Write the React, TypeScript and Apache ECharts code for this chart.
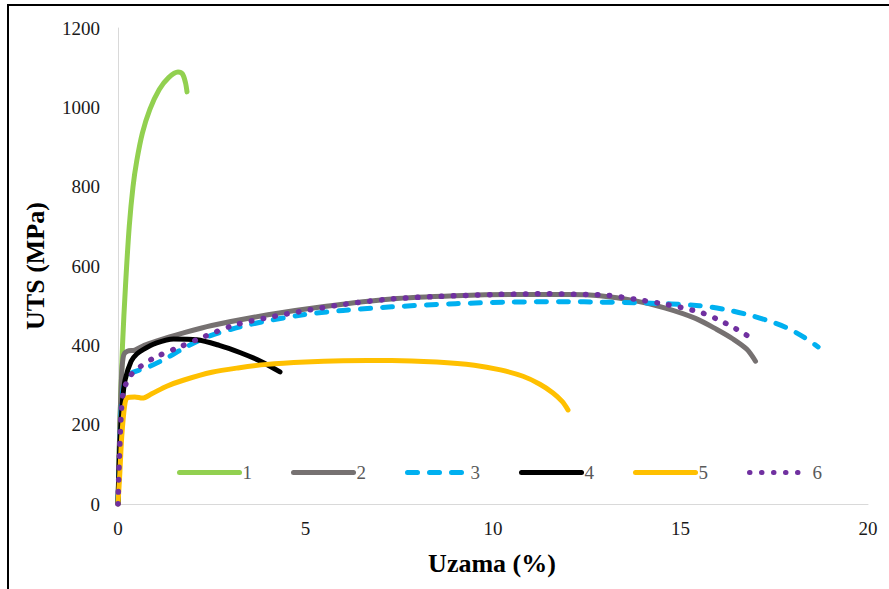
import React, { useEffect, useRef } from "react";
import * as echarts from "echarts";

const seriesNames = ["1", "2", "3", "4", "5", "6"];
const seriesColors = ["#92D050", "#767171", "#00B0F0", "#000000", "#FFC000", "#7030A0"];

const curve1: [number, number][] = [
  [0, 0], [0.05, 200], [0.12, 400], [0.2, 550], [0.3, 700], [0.4, 800], [0.5, 865],
  [0.65, 935], [0.85, 995], [1.1, 1045], [1.35, 1075], [1.6, 1089], [1.72, 1084],
  [1.8, 1062], [1.84, 1039],
];
const curve2: [number, number][] = [
  [0, 0], [0.05, 200], [0.1, 330], [0.15, 375], [0.25, 385], [0.45, 388], [0.7, 400],
  [1.0, 410], [1.7, 430], [2.5, 450], [4, 477], [5.5, 498], [7.3, 517], [9, 525],
  [10.5, 528], [12, 528], [12.85, 525], [13.8, 512], [14.6, 494], [15.4, 468],
  [15.97, 440], [16.4, 416], [16.77, 390], [17, 360],
];
const curve3: [number, number][] = [
  [0, 0], [0.05, 150], [0.12, 280], [0.25, 320], [0.4, 332], [0.8, 345], [1.3, 368],
  [1.8, 395], [2.45, 424], [3.5, 452], [4.85, 476], [6, 488], [7.3, 497], [9, 505],
  [10.5, 509], [12, 510], [12.85, 509], [14, 507], [15.5, 500], [16.2, 490],
  [16.85, 476], [17.4, 460], [17.84, 444], [18.3, 420], [18.67, 396],
];
const curve4: [number, number][] = [
  [0, 0], [0.05, 150], [0.12, 260], [0.19, 313], [0.35, 360], [0.5, 378], [0.68, 390],
  [1.0, 405], [1.48, 416], [2.1, 414], [2.7, 400], [3.25, 382], [3.8, 360], [4.32, 333],
];
const curve5: [number, number][] = [
  [0, 0], [0.05, 80], [0.1, 170], [0.18, 250], [0.25, 268], [0.45, 270], [0.65, 267],
  [0.9, 278], [1.3, 297], [1.74, 312], [2.5, 332], [3.2, 343], [3.97, 352], [5, 358],
  [6, 361], [7.3, 362], [8.5, 358], [9.5, 350], [10.2, 338], [10.8, 322], [11.25, 302],
  [11.6, 280], [11.85, 258], [12, 237],
];
const curve6: [number, number][] = [
  [0, 0], [0.03, 100], [0.08, 220], [0.14, 280], [0.3, 320], [0.59, 346], [1.0, 370],
  [1.65, 396], [2.3, 422], [3.07, 450], [4, 470], [4.85, 485], [6, 503], [7.3, 517],
  [8.5, 523], [10, 528], [11.5, 530], [12.5, 528], [13.07, 526], [13.8, 516],
  [14.45, 506], [15.0, 496], [15.6, 481], [16.0, 465], [16.4, 446], [16.65, 432],
  [16.9, 418],
];
const curves = [curve1, curve2, curve3, curve4, curve5, curve6];
const lineTypes: any[] = ["solid", "solid", [10, 12], "solid", "solid", [0.5, 11.5]];

const xTitle = "Uzama (%)";
const yTitle = "UTS (MPa)";

const FONT = "'Liberation Serif', 'Times New Roman', serif";

export default function App() {
  const ref = useRef<HTMLDivElement>(null);
  useEffect(() => {
    document.body.style.margin = "0";
    const chart = echarts.init(ref.current!, undefined, { renderer: "svg" });
    chart.setOption({
      animation: false,
      backgroundColor: "#ffffff",
      grid: { left: 118, right: 21, top: 28, bottom: 85, containLabel: false },
      xAxis: {
        type: "value",
        min: 0,
        max: 20,
        interval: 5,
        axisLine: { show: true, lineStyle: { color: "#d9d9d9", width: 1 } },
        axisTick: { show: false },
        splitLine: { show: false },
        axisLabel: { color: "#1a1a1a", fontSize: 19, fontFamily: FONT, margin: 15 },
      },
      yAxis: {
        type: "value",
        min: 0,
        max: 1200,
        interval: 200,
        axisLine: { show: true, lineStyle: { color: "#d9d9d9", width: 1 } },
        axisTick: { show: false },
        splitLine: { show: false },
        axisLabel: {
          color: "#1a1a1a",
          fontSize: 19,
          fontFamily: FONT,
          margin: 18,
          formatter: (v: number) => String(v),
        },
      },
      legend: {
        left: 172,
        top: 458,
        itemWidth: 60,
        itemHeight: 20,
        itemGap: 39,
        textStyle: { color: "#595959", fontSize: 19, fontFamily: FONT, padding: [0, 0, 0, -2] },
        itemStyle: { opacity: 0 },
        lineStyle: { width: 5, cap: "round" },
        data: seriesNames,
      },
      graphic: [
        {
          type: "text",
          x: 492,
          y: 563,
          style: {
            text: xTitle,
            font: `bold 26px ${FONT}`,
            fill: "#000",
            textAlign: "center",
            textVerticalAlign: "middle",
          },
        },
        {
          type: "text",
          x: 35,
          y: 266,
          rotation: Math.PI / 2,
          style: {
            text: yTitle,
            font: `bold 26px ${FONT}`,
            fill: "#000",
            textAlign: "center",
            textVerticalAlign: "middle",
          },
        },
        {
          type: "line",
          shape: { x1: 7, y1: 5, x2: 889, y2: 5 },
          style: { stroke: "#000", lineWidth: 2 },
        },
        {
          type: "line",
          shape: { x1: 8, y1: 5, x2: 8, y2: 589 },
          style: { stroke: "#000", lineWidth: 2 },
        },
      ],
      series: curves.map((c, i) => ({
        name: seriesNames[i],
        type: "line",
        data: c,
        smooth: 0.3,
        symbol: "none",
        showSymbol: false,
        z: 2 + i,
        lineStyle: {
          color: seriesColors[i],
          width: i === 5 ? 5.5 : 5,
          type: lineTypes[i],
          cap: "round",
          join: "round",
        },
        itemStyle: { color: seriesColors[i] },
      })),
    });
    return () => chart.dispose();
  }, []);
  return <div ref={ref} style={{ width: 889, height: 589 }} />;
}
